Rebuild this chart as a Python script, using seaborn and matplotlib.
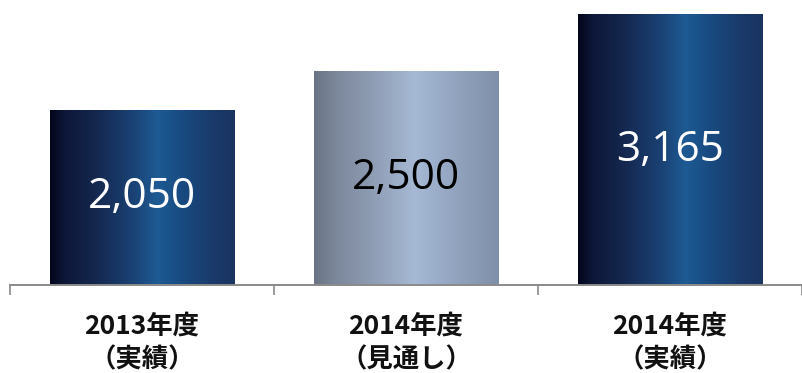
import numpy as np
import pandas as pd
import matplotlib
matplotlib.use("Agg")
import matplotlib.pyplot as plt
from matplotlib.colors import LinearSegmentedColormap
import seaborn as sns

categories = ["2013年度\n（実績）", "2014年度\n（見通し）", "2014年度\n（実績）"]
values = [2050, 2500, 3165]
value_labels = ["2,050", "2,500", "3,165"]
kinds = ["actual", "forecast", "actual"]

sns.set_theme(style="white")
plt.rcParams['font.family'] = ['Noto Sans CJK JP', 'DejaVu Sans']

df = pd.DataFrame({"cat": categories, "val": values})

fig = plt.figure(figsize=(8.02, 3.73), dpi=100)
ax = fig.add_axes([10/802, 88/373, 792/802, 285/373])

sns.barplot(data=df, x="cat", y="val", ax=ax, width=0.70, color="#1b3564",
            saturation=1, linewidth=0)

navy = LinearSegmentedColormap.from_list("navy", [
    (0.0, "#03061a"), (0.08, "#0d1738"), (0.25, "#15284f"), (0.45, "#1a4274"),
    (0.58, "#1e5a94"), (0.72, "#184a80"), (0.88, "#1a3a6a"), (1.0, "#1b3462")])
gray = LinearSegmentedColormap.from_list("gray", [
    (0.0, "#6a7384"), (0.1, "#7a8598"), (0.3, "#8d9bb2"), (0.55, "#a6b9d4"),
    (0.75, "#93a5c0"), (1.0, "#7f8fa8")])

grad = np.linspace(0, 1, 256).reshape(1, -1)
for patch, kind, lab in zip(ax.patches, kinds, value_labels):
    x0, w, h = patch.get_x(), patch.get_width(), patch.get_height()
    cmap = navy if kind == "actual" else gray
    im = ax.imshow(grad, cmap=cmap, aspect="auto", extent=[x0, x0 + w, 0, h],
                   zorder=patch.get_zorder() + 0.1, interpolation="bicubic")
    im.set_clip_path(patch)
    patch.set_edgecolor("#c8d0dc")
    patch.set_linewidth(0.6)
    tc = "white" if kind == "actual" else "black"
    ax.text(x0 + w / 2, h / 2, lab, ha="center", va="center", color=tc,
            fontsize=30.5, family=["Open Sans", "DejaVu Sans"], zorder=5)

ax.set_xlim(-0.5, 2.5)
ax.set_ylim(0, 3333)
ax.set_xlabel("")
ax.set_ylabel("")
ax.set_yticks([])
for s in ["left", "right", "top"]:
    ax.spines[s].set_visible(False)
ax.spines["bottom"].set_color("#8a8a8a")
ax.spines["bottom"].set_linewidth(1.4)

ax.set_xticks([-0.5, 0.5, 1.5, 2.5])
ax.set_xticklabels([])
ax.set_xticks([0, 1, 2], minor=True)
ax.set_xticklabels(categories, minor=True, fontsize=19, fontweight="bold",
                   color="#111111", linespacing=1.3)
ax.tick_params(axis="x", which="major", length=7, width=1.2, color="#8a8a8a",
               direction="out", bottom=True)
ax.tick_params(axis="x", which="minor", length=0, pad=20, bottom=True)

fig.savefig("out.png", dpi=100)
